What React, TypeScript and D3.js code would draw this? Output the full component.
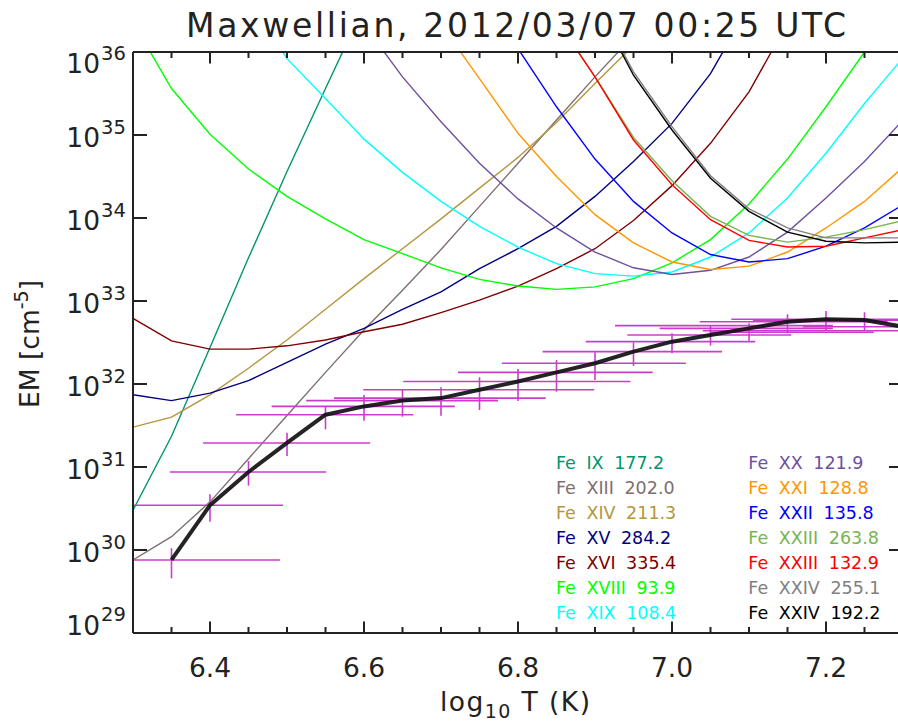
import React from "react";
import * as d3 from "d3";

// Temperature grid (log10 T [K])
const LOG_T = [6.3, 6.35, 6.4, 6.45, 6.5, 6.55, 6.6, 6.65, 6.7, 6.75, 6.8, 6.85, 6.9, 6.95, 7.0, 7.05, 7.1, 7.15, 7.2, 7.25, 7.3];

const N = null;
// EM loci curves, log10 EM [cm^-5] at each LOG_T point
const FE_IX_177 = [30.48, 31.37, 32.44, 33.52, 34.56, 35.56, 36.55, 37.5, N, N, N, N, N, N, N, N, N, N, N, N, N];
const FE_XIII_202 = [29.88, 30.16, 30.58, 31.1, 31.62, 32.14, 32.65, 33.13, 33.62, 34.14, 34.66, 35.18, 35.7, 36.2, 36.7, N, N, N, N, N, N];
const FE_XIV_211 = [31.48, 31.6, 31.87, 32.19, 32.53, 32.9, 33.27, 33.63, 33.99, 34.36, 34.73, 35.15, 35.62, 36.08, 36.5, N, N, N, N, N, N];
const FE_XV_284 = [31.87, 31.8, 31.89, 32.04, 32.26, 32.48, 32.67, 32.9, 33.11, 33.39, 33.63, 33.9, 34.26, 34.68, 35.14, 35.74, 36.55, N, N, N, N];
const FE_XVI_335 = [32.79, 32.52, 32.42, 32.42, 32.46, 32.53, 32.63, 32.72, 32.86, 33.01, 33.18, 33.39, 33.63, 33.97, 34.39, 34.9, 35.52, 36.35, N, N, N];
const FE_XVIII_94 = [36.36, 35.56, 35.01, 34.59, 34.26, 33.99, 33.74, 33.57, 33.4, 33.26, 33.18, 33.14, 33.17, 33.27, 33.46, 33.74, 34.17, 34.71, 35.34, 36.0, 36.7];
const FE_XIX_108 = [37.6, 37.2, 36.95, 36.64, 35.92, 35.44, 34.95, 34.55, 34.2, 33.9, 33.65, 33.45, 33.33, 33.3, 33.35, 33.53, 33.82, 34.24, 34.78, 35.38, 35.93];
const FE_XX_122 = [N, N, N, N, N, 37.0, 36.33, 35.7, 35.16, 34.66, 34.23, 33.88, 33.59, 33.4, 33.32, 33.37, 33.53, 33.83, 34.24, 34.68, 35.18];
const FE_XXI_129 = [N, N, N, N, N, N, N, 37.0, 36.33, 35.68, 35.02, 34.5, 34.04, 33.7, 33.47, 33.38, 33.42, 33.59, 33.88, 34.2, 34.61];
const FE_XXII_136 = [N, N, N, N, N, N, N, N, 37.5, 36.8, 36.04, 35.34, 34.71, 34.2, 33.82, 33.56, 33.47, 33.51, 33.66, 33.88, 34.16];
const FE_XXIII_264 = [N, N, N, N, N, N, N, N, N, N, 37.1, 36.39, 35.7, 34.97, 34.45, 34.02, 33.79, 33.71, 33.77, 33.86, 33.97];
const FE_XXIII_133 = [N, N, N, N, N, N, N, N, N, N, 37.1, 36.39, 35.7, 34.94, 34.4, 33.98, 33.73, 33.65, 33.66, 33.76, 33.86];
const FE_XXIV_255 = [N, N, N, N, N, N, N, N, N, N, N, 37.5, 36.62, 35.76, 35.1, 34.51, 34.11, 33.88, 33.76, 33.76, 33.76];
const FE_XXIV_192 = [N, N, N, N, N, N, N, N, N, N, N, 37.5, 36.6, 35.72, 35.06, 34.48, 34.08, 33.83, 33.72, 33.7, 33.71];

const LINE_LABELS = [
  "Fe IX 177.2", "Fe XIII 202.0", "Fe XIV 211.3", "Fe XV 284.2", "Fe XVI 335.4", "Fe XVIII 93.9", "Fe XIX 108.4",
  "Fe XX 121.9", "Fe XXI 128.8", "Fe XXII 135.8", "Fe XXIII 263.8", "Fe XXIII 132.9", "Fe XXIV 255.1", "Fe XXIV 192.2",
];
const LINE_COLORS = [
  "#00966e", "#806e6e", "#b4963c", "#000080", "#800000", "#00ff00", "#00ffff",
  "#6e50a0", "#ff9600", "#0000ff", "#78b450", "#ff0000", "#808080", "#000000",
];
const LINE_VALUES = [
  FE_IX_177, FE_XIII_202, FE_XIV_211, FE_XV_284, FE_XVI_335, FE_XVIII_94, FE_XIX_108,
  FE_XX_122, FE_XXI_129, FE_XXII_136, FE_XXIII_264, FE_XXIII_133, FE_XXIV_255, FE_XXIV_192,
];

// Recovered emission measure, log10 EM at each LOG_T point
const EM_SOLUTION = [N, 29.88, 30.54, 30.94, 31.29, 31.63, 31.73, 31.8, 31.83, 31.93, 32.03, 32.14, 32.25, 32.39, 32.51, 32.59, 32.67, 32.75, 32.78, 32.77, 32.69];

// Uncertainties for EM points 6.35 ... 7.30
const ERR_T_LO = [6.2, 6.29, 6.348, 6.391, 6.434, 6.48, 6.525, 6.561, 6.599, 6.651, 6.722, 6.779, 6.832, 6.888, 6.942, 6.984, 7.036, 7.077, 7.105, 7.17];
const ERR_T_HI = [6.491, 6.495, 6.551, 6.608, 6.664, 6.718, 6.774, 6.836, 6.899, 6.946, 6.975, 7.018, 7.065, 7.108, 7.155, 7.209, 7.28, 7.33, 7.4, 7.43];
const ERR_EM_LO = [29.659, 30.341, 30.775, 31.133, 31.454, 31.558, 31.606, 31.618, 31.687, 31.795, 31.907, 32.048, 32.217, 32.37, 32.462, 32.522, 32.611, 32.651, 32.639, 32.58];
const ERR_EM_HI = [30.021, 30.671, 31.072, 31.413, 31.735, 31.867, 31.928, 31.96, 32.081, 32.181, 32.289, 32.382, 32.502, 32.611, 32.699, 32.731, 32.84, 32.88, 32.864, 32.8];

// Additional temperature-width bars in the hot end
const EXTRA_BAR_EM = [32.703, 32.641, 32.623];
const EXTRA_BAR_T_LO = [6.926, 7.04, 7.049];
const EXTRA_BAR_T_HI = [7.209, 7.35, 7.262];

const X_MAJOR = [6.4, 6.6, 6.8, 7.0, 7.2];
const X_MAJOR_LABELS = ["6.4", "6.6", "6.8", "7.0", "7.2"];
const X_MINOR = [6.35, 6.45, 6.5, 6.55, 6.65, 6.7, 6.75, 6.85, 6.9, 6.95, 7.05, 7.1, 7.15, 7.25];
const Y_EXPONENTS = [29, 30, 31, 32, 33, 34, 35, 36];

const FONT = "'DejaVu Sans', sans-serif";
const INK = "#222";

export default function App() {
  const W = 898;
  const H = 721;
  const left = 133, right = 903, top = 52, bottom = 633;

  const x = d3.scaleLinear().domain([6.3, 7.3]).range([left, right]);
  const y = d3.scaleLog().domain([1e29, 1e36]).range([bottom, top]);
  const ly = (v: number) => y(Math.pow(10, v));

  const line = d3
    .line<[number, number | null]>()
    .defined((d) => d[1] != null)
    .x((d) => x(d[0]))
    .y((d) => ly(d[1] as number));

  const pairs = (vals: (number | null)[]) => LOG_T.map((t, i) => [t, vals[i]] as [number, number | null]);

  const errPoints = LOG_T.slice(1).map((t, i) => ({
    t,
    em: EM_SOLUTION[i + 1] as number,
    tLo: ERR_T_LO[i],
    tHi: ERR_T_HI[i],
    emLo: ERR_EM_LO[i],
    emHi: ERR_EM_HI[i],
  }));
  const extraBars = EXTRA_BAR_EM.map((em, i) => ({ em, tLo: EXTRA_BAR_T_LO[i], tHi: EXTRA_BAR_T_HI[i] }));

  const errColor = "#cc3ccc";

  return (
    <svg
      width={W}
      height={H}
      style={{ position: "absolute", left: 0, top: 0, background: "#fff" }}
      fontFamily={FONT}
    >
      <defs>
        <clipPath id="plot-clip">
          <rect x={left} y={top} width={right - left} height={bottom - top} />
        </clipPath>
      </defs>
      <rect x={0} y={0} width={W} height={H} fill="#fff" />

      <text x={516} y={37} fontSize={33} textAnchor="middle" fill={INK} textLength={660} lengthAdjust="spacing">
        Maxwellian, 2012/03/07 00:25 UTC
      </text>

      <g clipPath="url(#plot-clip)">
        {LINE_VALUES.map((vals, i) => (
          <path key={LINE_LABELS[i]} d={line(pairs(vals)) || ""} fill="none" stroke={LINE_COLORS[i]} strokeWidth={1.4} />
        ))}

        {errPoints.map((p) => (
          <g key={"e" + p.t} stroke={errColor} strokeWidth={1.6}>
            <line x1={x(p.tLo)} x2={x(p.tHi)} y1={ly(p.em)} y2={ly(p.em)} />
            <line x1={x(p.t)} x2={x(p.t)} y1={ly(p.emLo)} y2={ly(p.emHi)} />
          </g>
        ))}
        {extraBars.map((b, i) => (
          <line key={"x" + i} x1={x(b.tLo)} x2={x(b.tHi)} y1={ly(b.em)} y2={ly(b.em)} stroke={errColor} strokeWidth={1.6} />
        ))}

        <path d={line(pairs(EM_SOLUTION)) || ""} fill="none" stroke="#111" strokeWidth={4} strokeLinejoin="round" opacity={0.92} />
      </g>

      {/* frame */}
      <g stroke={INK} strokeWidth={2} fill="none">
        <line x1={left} x2={right} y1={bottom} y2={bottom} />
        <line x1={left} x2={right} y1={top} y2={top} />
        <line x1={left} x2={left} y1={top} y2={bottom} />
        <line x1={right} x2={right} y1={top} y2={bottom} />
        {X_MAJOR.map((t) => (
          <g key={"M" + t}>
            <line x1={x(t)} x2={x(t)} y1={bottom} y2={bottom - 11.5} />
            <line x1={x(t)} x2={x(t)} y1={top} y2={top + 11.5} />
          </g>
        ))}
        {X_MINOR.map((t) => (
          <g key={"m" + t}>
            <line x1={x(t)} x2={x(t)} y1={bottom} y2={bottom - 6} />
            <line x1={x(t)} x2={x(t)} y1={top} y2={top + 6} />
          </g>
        ))}
        {Y_EXPONENTS.map((e) => (
          <g key={"y" + e}>
            <line x1={left} x2={left + 14} y1={ly(e)} y2={ly(e)} />
            <line x1={right} x2={right - 14} y1={ly(e)} y2={ly(e)} />
          </g>
        ))}
      </g>

      {X_MAJOR.map((t, i) => (
        <text key={"xl" + t} x={x(t)} y={677} fontSize={26.5} textAnchor="middle" fill={INK}>
          {X_MAJOR_LABELS[i]}
        </text>
      ))}

      {Y_EXPONENTS.map((e, i) => {
        const ty = ly(e);
        const base = i === Y_EXPONENTS.length - 1 ? ty + 21 : i === 0 ? ty + 1.5 : ty + 12;
        return (
          <g key={"yl" + e} fill={INK}>
            <text x={100} y={base} fontSize={26.5} textAnchor="end">10</text>
            <text x={101} y={base - 13.5} fontSize={19.5} textAnchor="start">{String(e)}</text>
          </g>
        );
      })}

      <text transform="translate(39,344) rotate(-90)" fontSize={26.5} textAnchor="middle" fill={INK}>
        EM [cm
        <tspan dy={-11} fontSize={19}>-5</tspan>
        <tspan dy={11}>]</tspan>
      </text>

      <text x={440} y={711} fontSize={26.5} fill={INK} textLength={150} lengthAdjust="spacing">
        log
        <tspan dy={7} fontSize={19}>10</tspan>
        <tspan dy={-7}> T (K)</tspan>
      </text>

      {LINE_LABELS.map((lab, i) => {
        const col = Math.floor(i / 7);
        const row = i % 7;
        return (
          <text
            key={"lg" + lab}
            x={col === 0 ? 556 : 748.3}
            y={469.3 + row * 25}
            fontSize={17.5}
            wordSpacing={5}
            fill={LINE_COLORS[i]}
          >
            {lab}
          </text>
        );
      })}
    </svg>
  );
}
